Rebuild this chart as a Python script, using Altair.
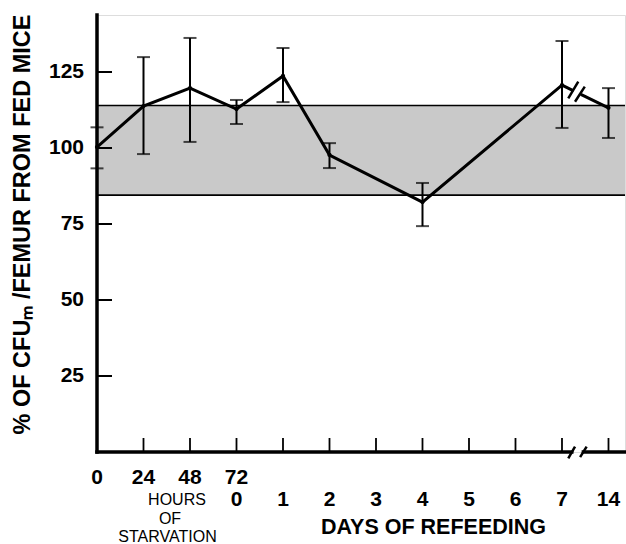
import altair as alt
import pandas as pd

# ---------------- data ----------------
x_pos = [0, 1, 2, 3, 4, 5, 7, 10, 11]
mean_pct = [100.3, 113.8, 119.7, 112.8, 123.7, 97.7, 82.2, 120.7, 113.2]
err_low = [93.3, 98.0, 102.0, 107.9, 115.1, 93.4, 74.3, 106.6, 103.3]
err_high = [106.8, 129.9, 136.2, 115.8, 132.9, 101.6, 88.5, 135.2, 119.7]

band_low = [84.5]
band_high = [114.0]

y_tick_values = [25, 50, 75, 100, 125]
y_tick_labels = ["25", "50", "75", "100", "125"]
x_tick_positions = [1, 2, 3, 4, 5, 6, 7, 8, 9, 10, 11]

hour_labels = ["0", "24", "48", "72"]
hour_positions = [0, 1, 2, 3]
day_labels = ["0", "1", "2", "3", "4", "5", "6", "7", "14"]
day_positions = [3, 4, 5, 6, 7, 8, 9, 10, 11]

# break marks (x index units, y % units)
axis_segments_x = [0, 10.46]
axis_segments_x2 = [10.21, 11.355]
slash_x = [10.135, 10.28, 10.135, 10.39]
slash_x2 = [10.35, 10.49, 10.28, 10.53]
slash_y = [116.3, 115.2, -2.1, -1.7]
slash_y2 = [121.8, 120.2, 1.8, 1.8]

y_title = "% OF CFUₘ  /FEMUR FROM FED MICE"
hours_caption = ["HOURS", "OF", "STARVATION"]
days_caption = "DAYS OF REFEEDING"

FONT = "Liberation Sans"
W, H = 528, 437

xs = alt.Scale(domain=[0, 11.355], nice=False, zero=False)
ys = alt.Scale(domain=[0, 143.75], nice=False, zero=False)

def X(f):
    return alt.X(f, scale=xs, axis=None)

def Y(f):
    return alt.Y(f, scale=ys, axis=None)

pts = pd.DataFrame({"x": x_pos, "m": mean_pct, "lo": err_low, "hi": err_high})
line_main = pts.iloc[:8]
line_break = pts.iloc[7:9]

# band
band_df = pd.DataFrame({"lo": band_low, "hi": band_high})
band = alt.Chart(band_df).mark_rect(color="#c9c9c9").encode(
    x=alt.value(0), x2=alt.value(W), y=Y("lo:Q"), y2="hi:Q")
band_top = alt.Chart(band_df).mark_rule(color="black", strokeWidth=1.6).encode(
    x=alt.value(0), x2=alt.value(W), y=Y("hi:Q"))
band_bot = alt.Chart(band_df).mark_rule(color="black", strokeWidth=1.6).encode(
    x=alt.value(0), x2=alt.value(W), y=Y("lo:Q"))

# y axis: line, inward ticks, labels, title
ydf = pd.DataFrame({"v": y_tick_values, "t": y_tick_labels})
yaxis = alt.Chart(band_df).mark_rule(color="black", strokeWidth=3.5, strokeCap="square").encode(
    x=alt.value(0), y=alt.value(0), y2=alt.value(H))
yt = alt.Chart(ydf).mark_rule(color="black", strokeWidth=2).encode(
    x=alt.value(0), x2=alt.value(15), y=Y("v:Q"))
ylab = alt.Chart(ydf).mark_text(
    font=FONT, fontSize=21, fontWeight="bold", color="black", align="right", baseline="middle").encode(
    x=alt.value(-13), y=Y("v:Q"), text="t:N")
ytitle = alt.Chart(pd.DataFrame({"t": [y_title]})).mark_text(
    font=FONT, fontSize=23.5, fontWeight="bold", color="black", align="center", baseline="middle",
    angle=270).encode(x=alt.value(-74), y=alt.value(209.5), text="t:N")

# x axis segments and ticks
axdf = pd.DataFrame({"a": axis_segments_x, "b": axis_segments_x2})
xaxis = alt.Chart(axdf).mark_rule(color="black", strokeWidth=3.5, strokeCap="square").encode(
    x=X("a:Q"), x2="b:Q", y=alt.value(H))
xt = alt.Chart(pd.DataFrame({"p": x_tick_positions})).mark_rule(color="black", strokeWidth=1.8).encode(
    x=X("p:Q"), y=alt.value(H), y2=alt.value(H - 14))

# error bars
ebar = alt.Chart(pts).mark_rule(color="black", strokeWidth=2).encode(
    x=X("x:Q"), y=Y("lo:Q"), y2="hi:Q")
cap_lo = alt.Chart(pts).mark_tick(color="black", orient="horizontal", size=13, thickness=2).encode(
    x=X("x:Q"), y=Y("lo:Q"))
cap_hi = alt.Chart(pts).mark_tick(color="black", orient="horizontal", size=13, thickness=2).encode(
    x=X("x:Q"), y=Y("hi:Q"))

# main line
ln = alt.Chart(line_main).mark_line(color="black", strokeWidth=3).encode(x=X("x:Q"), y=Y("m:Q"))
ln2 = alt.Chart(line_break).mark_line(color="black", strokeWidth=3, strokeDash=[13, 8, 80]).encode(
    x=X("x:Q"), y=Y("m:Q"))
dots = alt.Chart(pts).mark_circle(color="black", size=18, opacity=1).encode(x=X("x:Q"), y=Y("m:Q"))

# slashes
sl = alt.Chart(pd.DataFrame({"x": slash_x, "x2": slash_x2, "y": slash_y, "y2": slash_y2})).mark_rule(
    color="black", strokeWidth=2.5).encode(x=X("x:Q"), x2="x2:Q", y=Y("y:Q"), y2="y2:Q")

# x labels
hrs = alt.Chart(pd.DataFrame({"t": hour_labels, "p": hour_positions})).mark_text(
    font=FONT, fontSize=21, fontWeight="bold", color="black", align="center", baseline="middle").encode(
    x=X("p:Q"), y=alt.value(463), text="t:N")
dys = alt.Chart(pd.DataFrame({"t": day_labels, "p": day_positions})).mark_text(
    font=FONT, fontSize=21, fontWeight="bold", color="black", align="center", baseline="middle").encode(
    x=X("p:Q"), y=alt.value(485), text="t:N")

cap_df = pd.DataFrame({"t": hours_caption, "px": [80, 73, 70.5], "py": [484.5, 504, 521.5]})
hcap = alt.Chart(cap_df).mark_text(
    font=FONT, fontSize=16, color="black", align="center", baseline="middle").encode(
    x=alt.X("px:Q", scale=None, axis=None), y=alt.Y("py:Q", scale=None, axis=None), text="t:N")
dcap = alt.Chart(pd.DataFrame({"t": [days_caption]})).mark_text(
    font=FONT, fontSize=21.5, fontWeight="bold", color="black", align="center", baseline="middle").encode(
    x=alt.value(336.5), y=alt.value(513), text="t:N")

chart = alt.layer(
    band, band_top, band_bot, yt, ebar, cap_lo, cap_hi, ln, ln2, dots, sl,
    yaxis, xaxis, xt, ylab, ytitle, hrs, dys, hcap, dcap
).properties(
    width=W, height=H,
    autosize=alt.AutoSizeParams(type="none"),
    padding={"left": 97, "top": 15, "right": 1, "bottom": 92},
).configure_view(stroke=None).configure(background="white")

chart.save("out.html", embed_options={"renderer": "svg", "actions": False})
